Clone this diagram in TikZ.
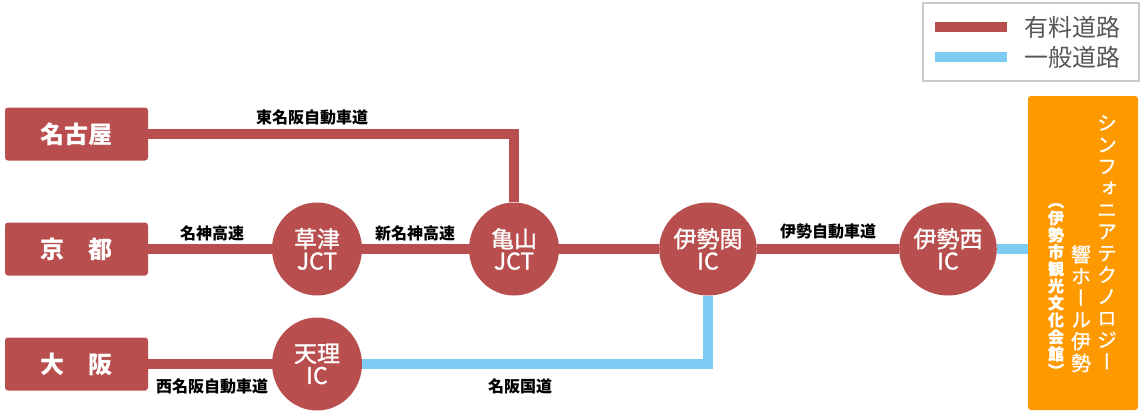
\documentclass[tikz,border=0pt]{standalone}
\usepackage{fontspec}
\setmainfont{Noto Sans CJK JP}
\newfontfamily\medfont[FakeBold=1.2]{Noto Sans CJK JP}
\newfontfamily\tatefont[RawFeature=+vert, FakeBold=0.8]{Noto Sans CJK JP}
\usepackage{tikz}
\usetikzlibrary{shapes.geometric}
\definecolor{tollred}{RGB}{185,78,78}
\definecolor{roadblue}{RGB}{125,204,244}
\definecolor{hallorange}{RGB}{255,153,0}
\definecolor{legendtext}{RGB}{85,85,85}
\tikzset{
	city/.style={fill=tollred, rounded corners=3pt, minimum width=143pt, minimum height=53pt, inner sep=0pt, text=white, font=\fontsize{24}{24}\selectfont\bfseries},
	junction/.style={ellipse, fill=tollred, minimum width=90pt, minimum height=93pt, inner sep=0pt, text=white, align=center, font=\medfont\fontsize{23}{22}\selectfont},
	toll/.style={tollred, line width=10pt},
	free/.style={roadblue, line width=10pt},
	roadname/.style={inner sep=0pt, font=\fontsize{16}{16}\selectfont\bfseries},
	tate/.style={anchor=north, align=center, inner sep=0pt, text=white}
}

\begin{document}
\begin{tikzpicture}[x=1pt, y=-1pt]
			%%%%% START %%%%%
			\useasboundingbox (0, 0) rectangle (1144, 416);
			
			\node[draw=black!20, line width=1.5pt, minimum width=216pt, minimum height=78pt] (legend) at (1031, 42) {};
			\coordinate (toll-a) at (935, 27);
			\coordinate (toll-b) at (1007, 27);
			\coordinate (free-a) at (935, 57);
			\coordinate (free-b) at (1007, 57);
			\draw[toll] (toll-a) -- (toll-b);
			\draw[free] (free-a) -- (free-b);
			\node[anchor=west, inner sep=0pt, text=legendtext, font=\fontsize{24}{24}\selectfont] (toll-txt) at (1024, 27) {有料道路};
			\node[anchor=west, inner sep=0pt, text=legendtext, font=\fontsize{24}{24}\selectfont] (free-txt) at (1024, 57) {一般道路};
			
			\node[city] (nagoya) at (76.5, 134) {名古屋};
			\node[city] (kyoto) at (76.5, 249) {京　都};
			\node[city] (osaka) at (76.5, 364) {大　阪};
			
			\node[junction] (kusatsu) at (317, 249) {草津\\JCT};
			\node[junction] (kameyama) at (514, 249) {亀山\\JCT};
			\node[junction] (iseseki) at (708, 249) {伊勢関\\IC};
			\node[junction] (iseseki-w) at (948, 249) {伊勢西\\IC};
			\node[junction] (tenri) at (317, 364) {天理\\IC};
			
			\node[fill=hallorange, rounded corners=3pt, minimum width=110pt, minimum height=314pt] (hall) at (1083, 253) {};
			\node[tate, font=\tatefont\fontsize{20}{21.7}\selectfont] (hall-a) at (1107, 115) {シ\\ン\\フ\\ォ\\ニ\\ア\\テ\\ク\\ノ\\ロ\\ジ\\ー};
			\node[tate, font=\tatefont\fontsize{20}{21.7}\selectfont] (hall-b) at (1081, 245) {響\\ホ\\ー\\ル\\伊\\勢};
			\node[tate, font=\tatefont\fontsize{16}{17}\selectfont\bfseries] (hall-c) at (1056, 203) {（\\伊\\勢\\市\\観\\光\\文\\化\\会\\館\\）};
			
			\draw[toll] (nagoya) -| (kameyama);
			\draw[toll] (kyoto) -- (kusatsu);
			\draw[toll] (kusatsu) -- (kameyama);
			\draw[toll] (kameyama) -- (iseseki);
			\draw[toll] (iseseki) -- (iseseki-w);
			\draw[toll] (osaka) -- (tenri);
			\draw[free] (tenri) -| (iseseki);
			\draw[free] (iseseki-w) -- (iseseki-w -| hall.west);
			
			\node[roadname] (tomei) at (312, 117) {東名阪自動車道};
			\node[roadname] (meishin) at (212, 233) {名神高速};
			\node[roadname] (shinmeishin) at (415, 233) {新名神高速};
			\node[roadname] (isedo) at (828, 231) {伊勢自動車道};
			\node[roadname] (nishimeihan) at (212, 386) {西名阪自動車道};
			\node[roadname] (meihan) at (520, 386) {名阪国道};
			%%%%% END %%%%%
\end{tikzpicture}
\end{document}
